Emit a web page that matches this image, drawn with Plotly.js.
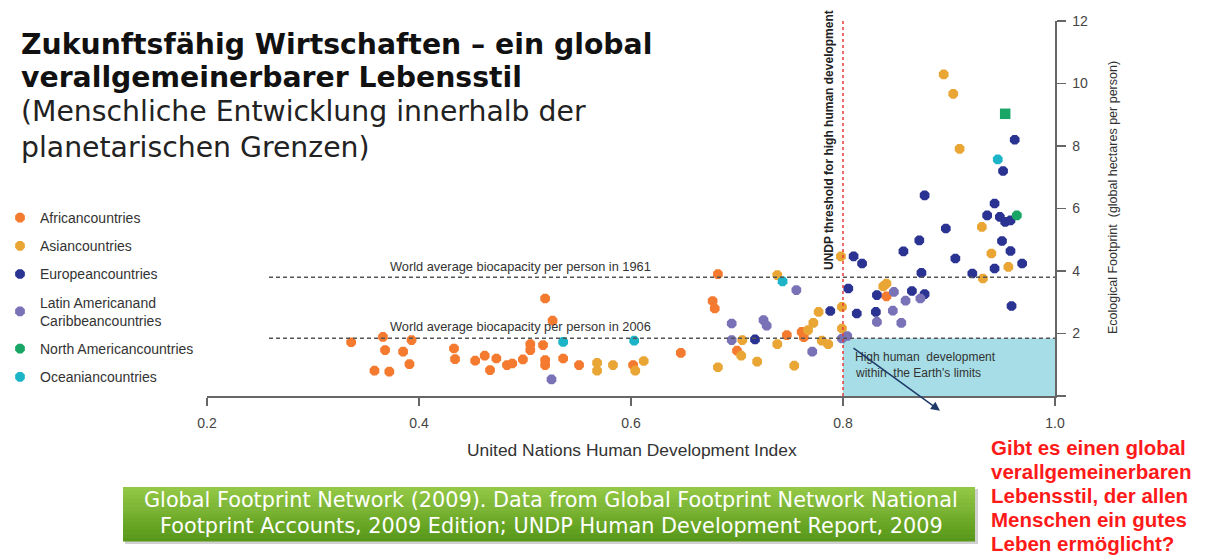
<!DOCTYPE html>
<html><head><meta charset="utf-8">
<script src="https://cdn.plot.ly/plotly-3.0.1.min.js"></script>
<style>html,body{margin:0;padding:0;background:#fff}#chart{width:1208px;height:557px}</style>
</head><body><div id="chart"></div>
<script>
// ---- data (HDI, Ecological Footprint gha/person) ----
const africaHDI = [0.336,0.366,0.393,0.368,0.385,0.391,0.358,0.372,0.433,0.434,0.453,0.462,0.467,0.519,0.526,0.505,0.517,0.505,0.473,0.483,0.488,0.498,0.519,0.519,0.536,0.551,0.602,0.682,0.677,0.679,0.647,0.700,0.747,0.761,0.763,0.841];
const africaEF  = [1.72,1.89,1.79,1.47,1.42,1.02,0.81,0.78,1.52,1.18,1.13,1.29,0.83,3.12,2.41,1.66,1.63,1.47,1.20,0.99,1.04,1.17,1.15,0.99,1.20,0.99,0.99,3.90,3.04,2.80,1.38,1.45,1.95,2.05,1.88,3.19];
const asiaHDI = [0.568,0.568,0.583,0.612,0.604,0.738,0.705,0.738,0.767,0.772,0.777,0.780,0.786,0.704,0.719,0.682,0.754,0.799,0.799,0.798,0.838,0.841,0.932,0.931,0.940,0.956,0.895,0.904,0.910];
const asiaEF  = [1.06,0.81,0.99,1.12,0.81,3.87,1.79,1.66,2.11,2.34,2.69,1.77,1.66,1.29,1.10,0.92,0.97,2.85,2.16,4.47,3.51,3.60,3.76,5.41,4.56,4.13,10.29,9.67,7.91];
const europeHDI = [0.717,0.788,0.805,0.813,0.810,0.818,0.831,0.832,0.865,0.877,0.857,0.872,0.874,0.877,0.897,0.906,0.922,0.943,0.936,0.943,0.948,0.953,0.958,0.950,0.958,0.969,0.959,0.962,0.951];
const europeEF  = [1.81,2.72,3.44,2.64,4.47,4.24,2.69,3.23,3.36,3.26,4.63,4.98,3.94,6.42,5.36,4.40,3.92,4.08,5.78,6.16,5.73,5.57,5.62,4.96,4.64,4.24,2.88,8.20,7.20];
const latinHDI = [0.525,0.756,0.695,0.725,0.728,0.695,0.771,0.799,0.804,0.832,0.848,0.847,0.855,0.859,0.873];
const latinEF  = [0.53,3.39,2.32,2.43,2.25,1.79,1.42,1.84,1.92,2.37,3.33,2.73,2.34,3.05,3.12];
const northAmHDI = [0.964,0.953];
const northAmEF  = [5.78,9.03];
const oceaniaHDI = [0.536,0.603,0.743,0.946];
const oceaniaEF  = [1.73,1.77,3.67,7.57];

const groupNames = ["Africancountries","Asiancountries","Europeancountries","Latin Americanand<br>Caribbeancountries","North Americancountries","Oceaniancountries"];
const bio1961 = 3.8, bio2006 = 1.85, hdiThreshold = 0.8;
const xTicks = [0.2,0.4,0.6,0.8,1.0];
const yTicks = [0,2,4,6,8,10,12];

const colors = ["#f47a2f","#e9a634","#2a3391","#7a72b6","#19a566","#1cb4c6"];
const xs = [africaHDI,asiaHDI,europeHDI,latinHDI,northAmHDI,oceaniaHDI];
const ys = [africaEF,asiaEF,europeEF,latinEF,northAmEF,oceaniaEF];

const traces = xs.map((x,i)=>({
  type:'scatter', mode:'markers', x:x, y:ys[i], name:groupNames[i], legendgroup:'g'+i,
  marker:{color:colors[i], size:10.5, symbol: (i===4 ? ['octagon','square'] : 'octagon'), line:{width:0}},
  hoverinfo:'x+y'
}));

// pixel helpers for paper coordinates
const L=207, T=21, W=848, H=375;
const PX = p => (p-L)/W;
const PY = p => (T+H-p)/H;

const F = "Liberation Sans, Arial, sans-serif";
const FN = "Liberation Sans Narrow, Arial Narrow, Liberation Sans, Arial, sans-serif";

const shapes = [
  {type:'rect', xref:'x', yref:'y', x0:hdiThreshold, x1:1.0, y0:0, y1:bio2006, fillcolor:'#a6dde6', line:{width:0}, layer:'below'},
  {type:'line', xref:'paper', yref:'y', x0:PX(269), x1:1, y0:bio1961, y1:bio1961, line:{color:'#555', width:1.5, dash:'4px,3px'}},
  {type:'line', xref:'paper', yref:'y', x0:PX(269), x1:1, y0:bio2006, y1:bio2006, line:{color:'#555', width:1.5, dash:'4px,3px'}},
  {type:'line', xref:'x', yref:'y', x0:hdiThreshold, x1:hdiThreshold, y0:0, y1:12, line:{color:'#e83a3a', width:1.5, dash:'3px,3px'}}
];
// green source box with vertical gradient (strips)
const nStrips = 14, bx0=123, bx1=975, by0=487, by1=541;
shapes.push({type:'rect', xref:'paper', yref:'paper', x0:PX(bx0+2), x1:PX(bx1+3), y0:PY(by1+3), y1:PY(by0+2), fillcolor:'rgba(0,0,0,0.18)', line:{width:0}});
for(let k=0;k<nStrips;k++){
  const t=k/(nStrips-1);
  const r=Math.round(146+(88-146)*t), g=Math.round(200+(152-200)*t), b=Math.round(70+(24-70)*t);
  shapes.push({type:'rect', xref:'paper', yref:'paper', x0:PX(bx0), x1:PX(bx1),
    y0:PY(by0+(by1-by0)*(k+1)/nStrips+0.5), y1:PY(by0+(by1-by0)*k/nStrips),
    fillcolor:`rgb(${r},${g},${b})`, line:{width:0}});
}

const ann = (px,py,text,opts={}) => Object.assign({xref:'paper', yref:'paper', x:PX(px), y:PY(py), text:text, showarrow:false, xanchor:'left', yanchor:'middle'}, opts);

const annotations = [
  ann(19,45,"<b>Zukunftsfähig Wirtschaften – ein global</b>",{font:{family:"DejaVu Sans, sans-serif", size:28.3, color:'#111'}}),
  ann(19,77,"<b>verallgemeinerbarer Lebensstil</b>",{font:{family:"DejaVu Sans, sans-serif", size:28.3, color:'#111'}}),
  ann(19,111,"(Menschliche Entwicklung innerhalb der",{font:{family:"DejaVu Sans, sans-serif", size:28.3, color:'#222'}}),
  ann(19,147,"planetarischen Grenzen)",{font:{family:"DejaVu Sans, sans-serif", size:28.3, color:'#222'}}),
  ann(520,266,"World average biocapacity per person in 1961",{xanchor:'center', font:{family:F, size:12.8, color:'#333'}}),
  ann(520,326,"World average biocapacity per person in 2006",{xanchor:'center', font:{family:F, size:12.8, color:'#333'}}),
  ann(829,140,"<b>UNDP threshold for high human development</b>",{xanchor:'center', textangle:-90, font:{family:FN, size:12, color:'#222'}}),
  ann(853,357,"High human  development",{font:{family:F, size:12, color:'#333'}}),
  ann(853,373,"within  the Earth's limits",{font:{family:F, size:12, color:'#333'}}),
  ann(632,450,"United Nations Human Development Index",{xanchor:'center', font:{family:F, size:17.4, color:'#333'}}),
  ann(1113,198,"Ecological Footprint  (global hectares per person)",{xanchor:'center', textangle:-90, font:{family:F, size:12.5, color:'#333'}}),
  ann(551,500,"Global Footprint Network (2009). Data from Global Footprint Network National",{xanchor:'center', font:{family:"DejaVu Sans, sans-serif", size:20.8, color:'#fff'}}),
  ann(551,526,"Footprint Accounts, 2009 Edition; UNDP Human Development Report, 2009",{xanchor:'center', font:{family:"DejaVu Sans, sans-serif", size:20.8, color:'#fff'}}),
  {xref:'x', yref:'y', x:0.8915, y:-0.47, ax:0.8085, ay:1.57, axref:'x', ayref:'y', text:'', showarrow:true, arrowhead:2, arrowsize:1.2, arrowwidth:1.5, arrowcolor:'#1f3a68', standoff:0}
];
const redLines = ["Gibt es einen global","verallgemeinerbaren","Lebensstil, der allen","Menschen ein gutes","Leben ermöglicht?"];
redLines.forEach((t,i)=>annotations.push(ann(989,447+i*24,"<b>"+t+"</b>",{font:{family:FN, size:20.5, color:'#ff1a1a'}})));

const layout = {
  width:1208, height:557, margin:{l:L, r:1208-L-W, t:T, b:557-T-H, pad:0},
  paper_bgcolor:'#fff', plot_bgcolor:'#fff',
  showlegend:true,
  legend:{xref:'container', yref:'container', x:0, y:1-202/557, xanchor:'left', yanchor:'top', tracegroupgap:7,
          font:{family:F, size:14, color:'#333'}, bgcolor:'rgba(0,0,0,0)'},
  xaxis:{range:[0.2,1.0], tickvals:xTicks, ticktext:xTicks.map(v=>v.toFixed(1)), showgrid:false, zeroline:false,
         showline:true, linecolor:'#666', linewidth:1.5, ticks:'outside', ticklen:8, tickcolor:'#666', tickwidth:1.5,
         ticklabelstandoff:6, tickfont:{family:F, size:14, color:'#444'}, fixedrange:true},
  yaxis:{range:[0,12], side:'right', tickvals:yTicks, ticktext:yTicks.map(v=>v===0?'':String(v)), showgrid:false, zeroline:false,
         showline:true, linecolor:'#666', linewidth:1.5, ticks:'outside', ticklen:9, tickcolor:'#666', tickwidth:1.5,
         ticklabelstandoff:4, tickfont:{family:F, size:14, color:'#444'}, fixedrange:true},
  shapes:shapes, annotations:annotations
};
Plotly.newPlot('chart', traces, layout, {displayModeBar:false, staticPlot:true});
</script></body></html>
